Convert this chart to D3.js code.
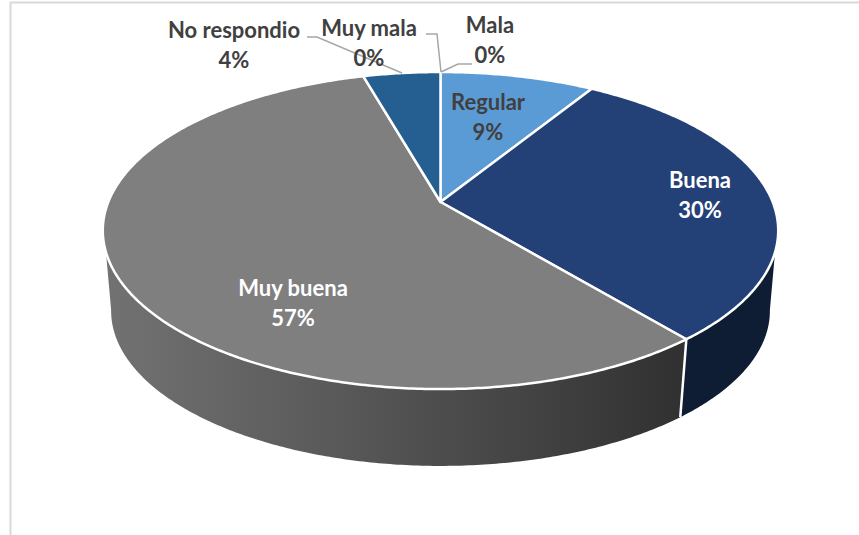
<!DOCTYPE html>
<html>
<head>
<meta charset="utf-8">
<script src="https://cdnjs.cloudflare.com/ajax/libs/d3/7.8.5/d3.min.js"></script>
<style>
html,body{margin:0;padding:0;background:#fff;overflow:hidden}
text{font-family:Lato,"Open Sans",sans-serif;font-weight:700;font-size:22px;text-anchor:middle}
</style>
</head>
<body>
<svg id="chart" width="859" height="535"></svg>
<script>
const categories = ["Mala","Regular","Buena","Muy buena","No respondio","Muy mala"];
const values = [0,8.8,30.2,56.6,4.4,0];
const percentLabels = ["0%","9%","30%","57%","4%","0%"];
const topColors = ["#a5a5a5","#5b9bd5","#244177","#7f7f7f","#255e91","#636363"];
const wallColors = ["#555555","#2f5f8f","#0e1d34","url(#wallGrad)","#143350","#333333"];
const labelColors = ["#404040","#404040","#ffffff","#ffffff","#404040","#404040"];
const labelPos = [[490,26],[488,103],[700,181],[293,289],[234,31],[369,29]];
const leaderPaths = [
  [[441,72],[458,64],[472,64]],
  null,null,null,
  [[307,37],[317,37],[402,73]],
  [[426,34],[437,34],[441,72]]
];

const svg = d3.select("#chart");
const defs = svg.append("defs");
const grad = defs.append("linearGradient").attr("id","wallGrad")
  .attr("gradientUnits","userSpaceOnUse")
  .attr("x1",104).attr("x2",686).attr("y1",0).attr("y2",0);
[[0,"#727272"],[0.35,"#5c5c5c"],[0.7,"#454545"],[1,"#303030"]].forEach(s=>
  grad.append("stop").attr("offset",s[0]).attr("stop-color",s[1]));

// frame of the chart area
svg.append("path").attr("d","M10.5,535V2.5H859").attr("fill","none")
  .attr("stroke","#d9d9d9").attr("stroke-width",2);

// perspective projection of the tilted disc
const k = 0.18;
const cx = 440.5;
const project = (theta, plane) => {
  const u = Math.sin(theta), v = -Math.cos(theta), d = 1 - k*v;
  return [cx + plane.b*u/d, plane.y0 + plane.a*v/d];
};
const topPlane = {b:332.2, a:153.4, y0:202};
const lowPlane = {b:324, a:150, y0:283};
const rad = d => d*Math.PI/180;
const wallTop = [rad(108), rad(252)];
const wallLow = [rad(100), rad(260)];

const arcs = d3.pie().sort(null).value(d=>d)(values);
const sample = (a0,a1,plane) => {
  const n = Math.max(2, Math.ceil(Math.abs(a1-a0)/0.01));
  return d3.range(n+1).map(i=>project(a0+(a1-a0)*i/n, plane));
};
const line = d3.line();

// side wall
const g = svg.append("g");
arcs.forEach((d,i)=>{
  const t0=Math.max(d.startAngle,wallTop[0]), t1=Math.min(d.endAngle,wallTop[1]);
  const l0=Math.max(d.startAngle,wallLow[0]), l1=Math.min(d.endAngle,wallLow[1]);
  if(l1<=l0) return;
  const pts = (t1>t0 ? sample(t0,t1,topPlane) : []).concat(sample(l1,l0,lowPlane));
  g.append("path").attr("d",line(pts)+"Z").attr("fill",wallColors[i]);
});
// white split lines on the wall
arcs.forEach(d=>{
  if(d.value>0 && d.endAngle>wallTop[0] && d.endAngle<wallTop[1]){
    g.append("path").attr("d",line([project(d.endAngle,topPlane),project(d.endAngle,lowPlane)]))
      .attr("stroke","#fff").attr("stroke-width",2.5).attr("fill","none");
  }
});
// top face
const apex = [cx,202];
arcs.forEach((d,i)=>{
  if(d.value<=0) return;
  const pts=[apex].concat(sample(d.startAngle,d.endAngle,topPlane));
  g.append("path").attr("d",line(pts)+"Z").attr("fill",topColors[i])
   .attr("stroke","#fff").attr("stroke-width",2.5).attr("stroke-linejoin","round");
});
// leaders
leaderPaths.forEach(p=>{
  if(p) svg.append("path").attr("d",line(p)).attr("fill","none")
    .attr("stroke","#a6a6a6").attr("stroke-width",1.5);
});
// labels
categories.forEach((c,i)=>{
  const [x,y]=labelPos[i];
  const t=svg.append("text").attr("fill",labelColors[i]);
  t.append("tspan").attr("x",x).attr("y",y+7).text(c);
  t.append("tspan").attr("x",x).attr("y",y+37).text(percentLabels[i]);
});
</script>
</body>
</html>
